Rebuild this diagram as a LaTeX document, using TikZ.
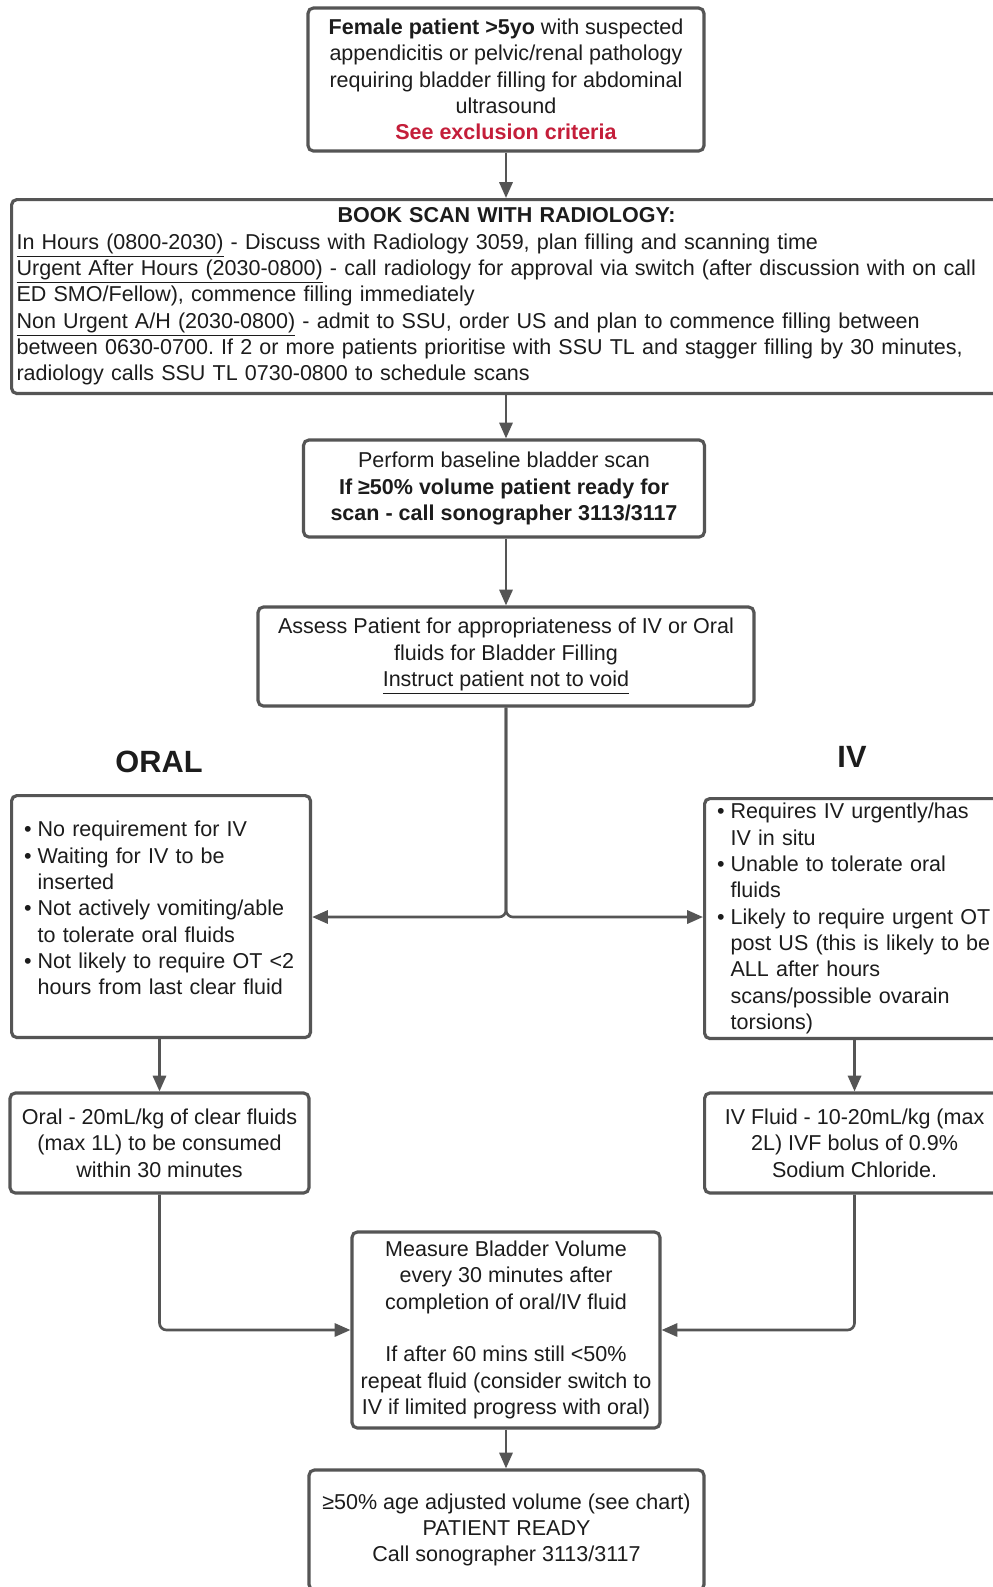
\documentclass[tikz,border=0pt]{standalone}
\usepackage{fontspec}
\setmainfont{Liberation Sans}
\usetikzlibrary{arrows.meta,positioning}
\definecolor{flowline}{RGB}{85,85,85}
\definecolor{flowtext}{RGB}{28,28,28}
\definecolor{flowred}{RGB}{196,30,58}
\newcommand{\bitem}[1]{\hangindent=0.63em\hangafter=1\noindent\makebox[0.63em][l]{\textbullet}#1\par}
\frenchspacing
\tikzset{
  flowbox/.style={draw=flowline,line width=1.8pt,rounded corners=3pt,align=center,
    text=flowtext,inner xsep=2pt,inner ysep=2pt,font=\fontsize{12.25}{15}\selectfont},
  listbox/.style={flowbox,align=left,inner xsep=0.25cm,anchor=north west},
  branchhead/.style={text=flowtext,font=\fontsize{17.5}{21}\selectfont\bfseries},
  flow/.style={draw=flowline,line width=1.5pt,-{Triangle[length=9pt,width=7.5pt]}}
}
\begin{document}
\begin{tikzpicture}[x=0.02cm,y=-0.02cm]
    \fill[white] (0,0) rectangle (993,1587);
    \path[use as bounding box,clip] (0,0) rectangle (993,1587);
    % boxes down the middle
    \node[flowbox,minimum width=7.92cm,minimum height=2.86cm] (start) at (506,79.5)
        {\textbf{Female patient >5yo} with suspected\\ appendicitis or pelvic/renal pathology\\
         requiring bladder filling for abdominal\\ ultrasound\\ \textcolor{flowred}{\textbf{See exclusion criteria}}};
    \node[flowbox,anchor=north west,align=left,inner xsep=0.1cm,minimum height=3.88cm,text width=19.6cm] (book) at (10,198)
        {\makebox[\linewidth][c]{\textbf{BOOK SCAN WITH RADIOLOGY:}}\\
         \underline{In Hours (0800-2030)} - Discuss with Radiology 3059, plan filling and scanning time\\
         \underline{Urgent After Hours (2030-0800)} - call radiology for approval via switch (after discussion with on call\\
         ED SMO/Fellow), commence filling immediately\\
         \underline{Non Urgent A/H (2030-0800)} - admit to SSU, order US and plan to commence filling between\\
         between 0630-0700. If 2 or more patients prioritise with SSU TL and stagger filling by 30 minutes,\\
         radiology calls SSU TL 0730-0800 to schedule scans};
    \node[flowbox,minimum width=8.02cm,minimum height=1.94cm] (baseline) at (504,488.5)
        {Perform baseline bladder scan\\ \textbf{If ≥50\% volume patient ready for}\\ \textbf{scan - call sonographer 3113/3117}};
    \node[flowbox,minimum width=9.92cm,minimum height=1.98cm] (assess) at (506,656.5)
        {Assess Patient for appropriateness of IV or Oral\\ fluids for Bladder Filling\\ \underline{Instruct patient not to void}};
    % the two branches
    \node[branchhead] (oralhead) at (159,762) {ORAL};
    \node[branchhead] (ivhead) at (852,757) {IV};
    \node[listbox,minimum width=5.98cm,minimum height=4.84cm,text width=5.48cm] (oralcrit) at (10,794)
        {\bitem{No requirement for IV}
         \bitem{Waiting for IV to be\newline inserted}
         \bitem{Not actively vomiting/able\newline to tolerate oral fluids}
         \bitem{Not likely to require OT <2\newline hours from last clear fluid}
         \vspace{0.34cm}};
    \node[listbox,minimum width=6cm,minimum height=4.8cm,text width=5.6cm] (ivcrit) at (703,797)
        {\bitem{Requires IV urgently/has\newline IV in situ}
         \bitem{Unable to tolerate oral\newline fluids}
         \bitem{Likely to require urgent OT\newline post US (this is likely to be\newline ALL after hours\newline
                scans/possible ovarain\newline torsions)}};
    \node[flowbox,minimum width=5.98cm,minimum height=2cm] (oralfluid) at (159.5,1143)
        {Oral - 20mL/kg of clear fluids\\ (max 1L) to be consumed\\ within 30 minutes};
    \node[flowbox,anchor=west,minimum width=6cm,minimum height=2cm] (ivfluid) at (703,1143)
        {IV Fluid - 10-20mL/kg (max\\ 2L) IVF bolus of 0.9\%\\ Sodium Chloride.};
    \node[flowbox,minimum width=6.16cm,minimum height=3.92cm] (measure) at (506,1330)
        {Measure Bladder Volume\\ every 30 minutes after\\ completion of oral/IV fluid\\[15pt]
         If after 60 mins still <50\%\\ repeat fluid (consider switch to\\ IV if limited progress with oral)};
    \node[flowbox,minimum width=7.9cm,minimum height=2.4cm] (ready) at (506.5,1530)
        {≥50\% age adjusted volume (see chart)\\ PATIENT READY\\ Call sonographer 3113/3117};
    % connectors
    \coordinate (split) at (506,917);
    \draw[flow] (start.south) -- (start.south |- book.north);
    \draw[flow] (start.south |- book.south) -- (start.south |- baseline.north);
    \draw[flow] (start.south |- baseline.south) -- (start.south |- assess.north);
    \draw[flow,rounded corners=4pt] (assess.south) |- (oralcrit.east |- split);
    \draw[flow,rounded corners=4pt] (assess.south) |- (ivcrit.west |- split);
    \draw[flow] (oralcrit.south -| oralfluid.north) -- (oralfluid.north);
    \draw[flow] (ivcrit.south -| ivfluid.north) -- (ivfluid.north);
    \draw[flow,rounded corners=4pt] (oralfluid.south) |- (measure.west);
    \draw[flow,rounded corners=4pt] (ivfluid.south) |- (measure.east);
    \draw[flow] (measure.south) -- (measure.south |- ready.north);
\end{tikzpicture}
\end{document}
